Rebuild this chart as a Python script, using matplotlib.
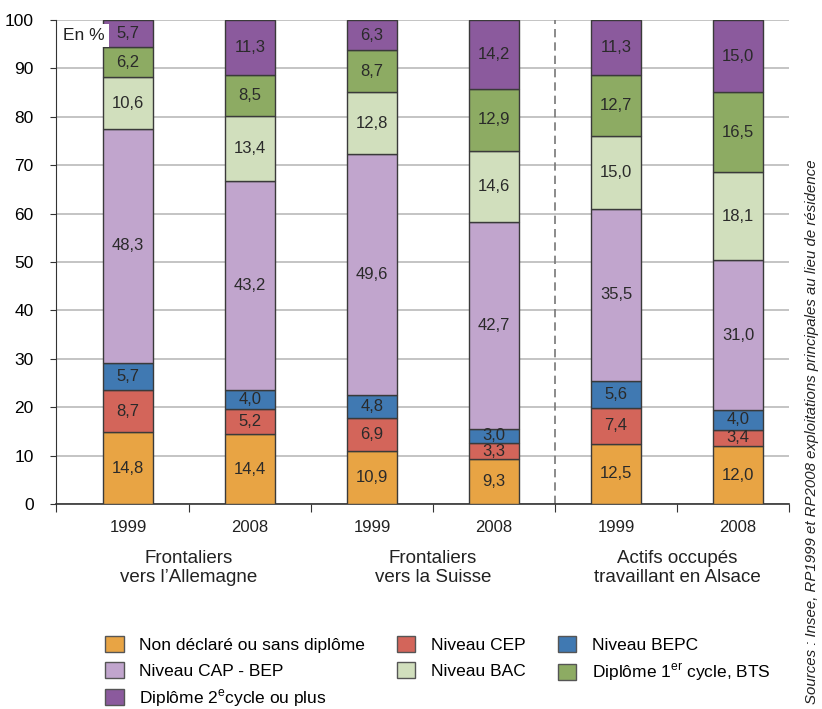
import numpy as np
import matplotlib.pyplot as plt
from matplotlib.patches import Patch

plt.rcParams['font.family'] = ['Liberation Sans', 'DejaVu Sans']
plt.rcParams['mathtext.fontset'] = 'custom'
plt.rcParams['mathtext.rm'] = 'Liberation Sans'

years = ['1999', '2008', '1999', '2008', '1999', '2008']
groups = ['Frontaliers\nvers l\u2019Allemagne', 'Frontaliers\nvers la Suisse',
          'Actifs occup\u00e9s\ntravaillant en Alsace']

levels = ['Non d\u00e9clar\u00e9 ou sans dipl\u00f4me', 'Niveau CEP', 'Niveau BEPC',
          'Niveau CAP - BEP', 'Niveau BAC', 'Dipl\u00f4me 1$^{\\mathrm{er}}$ cycle, BTS',
          'Dipl\u00f4me 2$^{\\mathrm{e}}$cycle ou plus']
colors = ['#e8a444', '#d3655a', '#4079b2', '#c1a5cd', '#d1dfbd', '#8dab63', '#8b5a9d']

sans_diplome = [14.8, 14.4, 10.9, 9.3, 12.5, 12.0]
cep = [8.7, 5.2, 6.9, 3.3, 7.4, 3.4]
bepc = [5.7, 4.0, 4.8, 3.0, 5.6, 4.0]
cap_bep = [48.3, 43.2, 49.6, 42.7, 35.5, 31.0]
bac = [10.6, 13.4, 12.8, 14.6, 15.0, 18.1]
cycle1 = [6.2, 8.5, 8.7, 12.9, 12.7, 16.5]
cycle2 = [5.7, 11.3, 6.3, 14.2, 11.3, 15.0]

series = [sans_diplome, cep, bepc, cap_bep, bac, cycle1, cycle2]

fig = plt.figure(figsize=(8.22, 7.09), dpi=100)
ax = fig.add_axes([0.0681, 0.289, 0.892, 0.683])

x = np.arange(len(years))
bottom = np.zeros(len(years))
for vals, col in zip(series, colors):
    vals = np.array(vals)
    ax.bar(x, vals, 0.41, bottom=bottom, color=col, edgecolor='#3a3a3a',
           linewidth=1.0, zorder=3)
    for xi, b, v in zip(x, bottom, vals):
        ax.text(xi, b + v / 2, f'{v:.1f}'.replace('.', ','), ha='center',
                va='center', fontsize=12, color='#2a2a2a', zorder=4)
    bottom += vals

ax.set_xlim(-0.59, 5.42)
ax.set_ylim(0, 100)
ax.set_yticks(range(0, 101, 10))
ax.tick_params(axis='y', labelsize=12.5, length=4, color='#333333', pad=12)
ax.yaxis.grid(True, color='#c4c4c4', linewidth=1.4, zorder=0)

# category separators on the bottom axis
ax.set_xticks([-0.59, 0.5, 1.5, 2.5, 3.5, 4.5, 5.42])
ax.set_xticklabels([])
ax.tick_params(axis='x', length=6, color='#333333')
for xi, yr in zip(x, years):
    ax.text(xi, -3.2, yr, ha='center', va='top', fontsize=12, color='#222222')
for gi, g in enumerate(groups):
    ax.text(2 * gi + 0.5, -9.5, g, ha='center', va='top', fontsize=13.5,
            color='#222222', linespacing=1.15)

for side in ['top', 'right']:
    ax.spines[side].set_visible(False)
ax.spines['left'].set_color('#333333')
ax.spines['bottom'].set_color('#333333')
ax.spines['bottom'].set_linewidth(1.2)

ax.axvline(3.5, color='#777777', linestyle=(0, (5, 3)), linewidth=1.2, zorder=2)

ax.text(-0.53, 96.8, 'En %', ha='left', va='center', fontsize=12.5, color='#222222',
        zorder=5, bbox=dict(facecolor='white', edgecolor='none', pad=3))

handles = [Patch(facecolor=c, edgecolor='#555555') for c in colors]
order = [0, 3, 6, 1, 4, 2, 5]
ax.legend([handles[i] for i in order], [levels[i] for i in order], ncol=3,
          loc='upper left', bbox_to_anchor=(0.046, -0.24), frameon=False,
          fontsize=12.5, handlelength=1.05, handleheight=1.05, handletextpad=0.9,
          columnspacing=1.85, labelspacing=0.5)

fig.text(0.988, 0.391, 'Sources : Insee, RP1999 et RP2008 exploitations principales au lieu de r\u00e9sidence',
         rotation=90, ha='center', va='center', fontsize=10.8, style='italic',
         color='#222222')

fig.savefig('out.png', dpi=100)
